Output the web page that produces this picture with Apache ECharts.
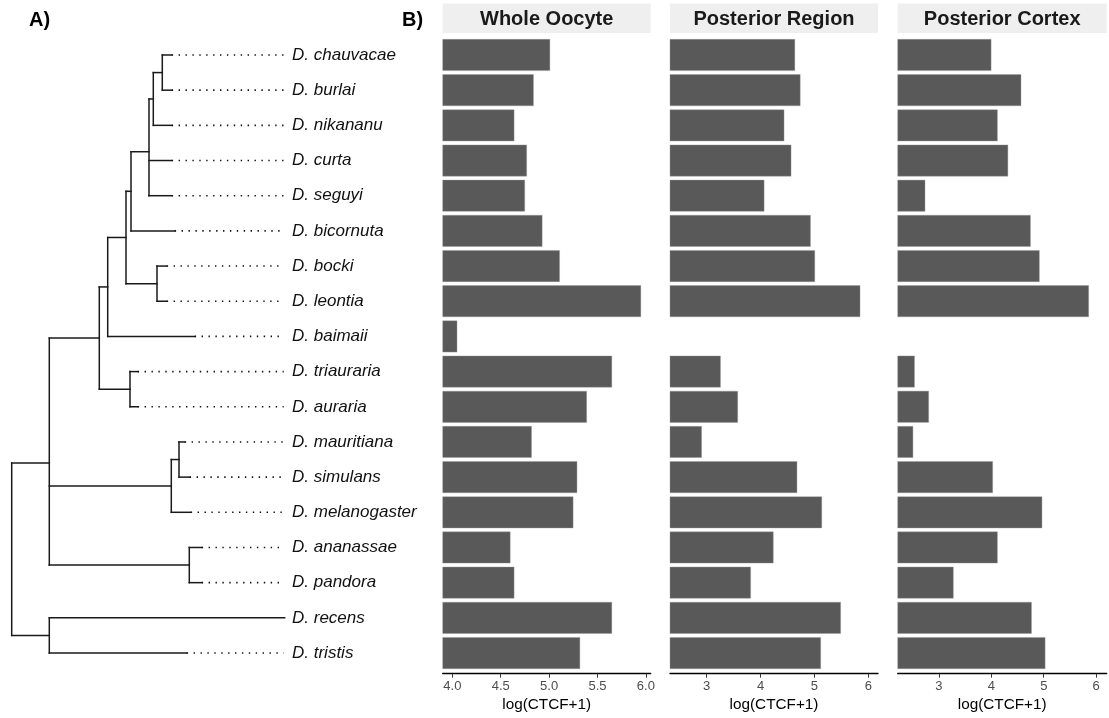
<!DOCTYPE html>
<html>
<head>
<meta charset="utf-8">
<title>CTCF across Drosophila species</title>
<script src="https://cdn.jsdelivr.net/npm/echarts@6/dist/echarts.min.js"></script>
<style>
  html, body { margin: 0; padding: 0; background: #ffffff; }
  #chart { width: 1109px; height: 718px; }
</style>
</head>
<body>
<div id="chart"></div>
<script>
// Species, top to bottom (tip order of the tree)
const species = ['chauvacae', 'burlai', 'nikananu', 'curta', 'seguyi', 'bicornuta',
  'bocki', 'leontia', 'baimaii', 'triauraria', 'auraria', 'mauritiana', 'simulans',
  'melanogaster', 'ananassae', 'pandora', 'recens', 'tristis'];

// log(CTCF+1) per species and region (null = not measured)
const wholeOocyte = [5.01, 4.84, 4.64, 4.77, 4.75, 4.93, 5.11, 5.95, 4.05,
  5.65, 5.39, 4.82, 5.29, 5.25, 4.60, 4.64, 5.65, 5.32];
const posteriorRegion = [4.64, 4.74, 4.44, 4.57, 4.07, 4.93, 5.01, 5.85, null,
  3.26, 3.58, 2.91, 4.68, 5.14, 4.24, 3.82, 5.49, 5.12];
const posteriorCortex = [4.00, 4.57, 4.12, 4.32, 2.74, 4.75, 4.92, 5.86, null,
  2.54, 2.81, 2.51, 4.03, 4.97, 4.12, 3.28, 4.77, 5.03];

const panelTitles = ['Whole Oocyte', 'Posterior Region', 'Posterior Cortex'];
const tickValues = [[4.0, 4.5, 5.0, 5.5, 6.0], [3, 4, 5, 6], [3, 4, 5, 6]];
const axisTitle = 'log(CTCF+1)';

// Tree: depth of each tip, depth of each internal node and its children
// ('t#' = tip index, 'n#' = internal node index). Last node is the root.
const tipDepth = [160, 160, 160, 160, 160, 163, 155, 155, 183,
  126, 126, 173, 178, 179, 190, 190, 273, 175];
const nodeDepth = [150.6, 141.6, 137.3, 119.3, 145.3, 114.3, 96, 118.3, 87.6,
  167.3, 159.6, 177.6, 37.6, 37.6, 0];
const nodeChildren = [['t0', 't1'], ['n0', 't2'], ['n1', 't3', 't4'], ['n2', 't5'],
  ['t6', 't7'], ['n3', 'n4'], ['n5', 't8'], ['t9', 't10'], ['n6', 'n7'],
  ['t11', 't12'], ['n9', 't13'], ['t14', 't15'], ['n8', 'n10', 'n11'],
  ['t16', 't17'], ['n12', 'n13']];
const guideEnd = 272;   // where the dotted leader lines stop
const labelAt = 280.3;  // where the species names start

// ---- build tree segments ----
function depthOf(id) {
  const i = +id.slice(1);
  return id[0] === 't' ? tipDepth[i] : nodeDepth[i];
}
const nodeY = [];
function yOf(id) {
  const i = +id.slice(1);
  if (id[0] === 't') return i;
  if (nodeY[i] === undefined) {
    const ys = nodeChildren[i].map(yOf);
    nodeY[i] = ys.reduce((a, b) => a + b, 0) / ys.length;
  }
  return nodeY[i];
}
const solidSegs = [];
nodeChildren.forEach((kids, i) => {
  const d = nodeDepth[i];
  const ys = kids.map(yOf);
  solidSegs.push([d, Math.min(...ys), d, Math.max(...ys)]);
  kids.forEach(k => solidSegs.push([d, yOf(k), depthOf(k), yOf(k)]));
});
const dottedSegs = [];
tipDepth.forEach((d, i) => { if (d < guideEnd) dottedSegs.push([d, i, guideEnd, i]); });
const tipLabels = species.map((s, i) => [labelAt, i, 'D. ' + s]);

const FONT = '"Liberation Sans", Arial, Helvetica, sans-serif';

function segRenderer(style) {
  return function (params, api) {
    const a = api.coord([api.value(0), api.value(1)]);
    const b = api.coord([api.value(2), api.value(3)]);
    return { type: 'line', shape: { x1: a[0], y1: a[1], x2: b[0], y2: b[1] }, style: style };
  };
}

// ---- layout of the bar panels ----
const plotTop = 37.4, plotHeight = 633.2;
const panels = [
  { left: 442.7, width: 208, min: 3.9, max: 6.05, data: wholeOocyte, fmt: v => v.toFixed(1) },
  { left: 670, width: 208, min: 2.32, max: 6.18, data: posteriorRegion, fmt: v => String(v) },
  { left: 897.7, width: 209, min: 2.216, max: 6.2, data: posteriorCortex, fmt: v => String(v) }
];

const grids = [{ left: 11.7, top: plotTop, width: 273.3, height: plotHeight }];
const xAxes = [{ gridIndex: 0, type: 'value', min: 0, max: 273.3, show: false }];
const yAxes = [{ gridIndex: 0, type: 'value', min: -0.5, max: 17.5, inverse: true, show: false }];
const series = [
  { type: 'custom', xAxisIndex: 0, yAxisIndex: 0, data: solidSegs, silent: true,
    renderItem: segRenderer({ stroke: '#1a1a1a', lineWidth: 1.5, lineCap: 'square' }) },
  { type: 'custom', xAxisIndex: 0, yAxisIndex: 0, data: dottedSegs, silent: true,
    renderItem: segRenderer({ stroke: '#111', lineWidth: 1.6, lineDash: [1.4, 5.5] }) },
  { type: 'custom', xAxisIndex: 0, yAxisIndex: 0, data: tipLabels, silent: true,
    renderItem: function (params, api) {
      const p = api.coord([api.value(0), api.value(1)]);
      return { type: 'text', x: p[0], y: p[1],
        style: { text: tipLabels[params.dataIndex][2], fill: '#111',
          font: 'italic 17px ' + FONT, align: 'left', verticalAlign: 'middle' } };
    } }
];

const graphics = [
  { type: 'text', left: 29, top: 10, style: { text: 'A)', font: 'bold 20px ' + FONT, fill: '#000' } },
  { type: 'text', left: 402, top: 10, style: { text: 'B)', font: 'bold 20px ' + FONT, fill: '#000' } }
];

panels.forEach((p, k) => {
  const g = k + 1;
  grids.push({ left: p.left, top: plotTop, width: p.width, height: plotHeight });
  xAxes.push({
    gridIndex: g, type: 'value', min: p.min, max: p.max, position: 'bottom', offset: 3,
    splitLine: { show: false },
    axisLine: { show: true, lineStyle: { color: '#000', width: 1.3 } },
    axisTick: { show: true, length: 4, lineStyle: { color: '#333', width: 1 }, customValues: tickValues[k] },
    axisLabel: { color: '#4d4d4d', fontSize: 13, fontFamily: FONT, margin: 6,
      customValues: tickValues[k], formatter: p.fmt },
    name: axisTitle, nameLocation: 'middle', nameGap: 21,
    nameTextStyle: { color: '#000', fontSize: 15.3, fontFamily: FONT }
  });
  yAxes.push({ gridIndex: g, type: 'category', data: species, inverse: true, show: false });
  series.push({
    type: 'bar', xAxisIndex: g, yAxisIndex: g, data: p.data, clip: true,
    barCategoryGap: '10%', silent: true,
    itemStyle: { color: '#595959', borderColor: '#9a9a9a', borderWidth: 0.4 }
  });
  graphics.push({ type: 'rect', shape: { x: p.left, y: 3.5, width: p.width, height: 29.5 },
    style: { fill: '#efefef' } });
  graphics.push({ type: 'text', x: p.left + p.width / 2, y: 19,
    style: { text: panelTitles[k], font: 'bold 20px ' + FONT, fill: '#1a1a1a',
      align: 'center', verticalAlign: 'middle' } });
});

const chart = echarts.init(document.getElementById('chart'), null, { renderer: 'canvas' });
chart.setOption({
  animation: false,
  backgroundColor: '#ffffff',
  grid: grids,
  xAxis: xAxes,
  yAxis: yAxes,
  series: series,
  graphic: graphics
});
</script>
</body>
</html>
